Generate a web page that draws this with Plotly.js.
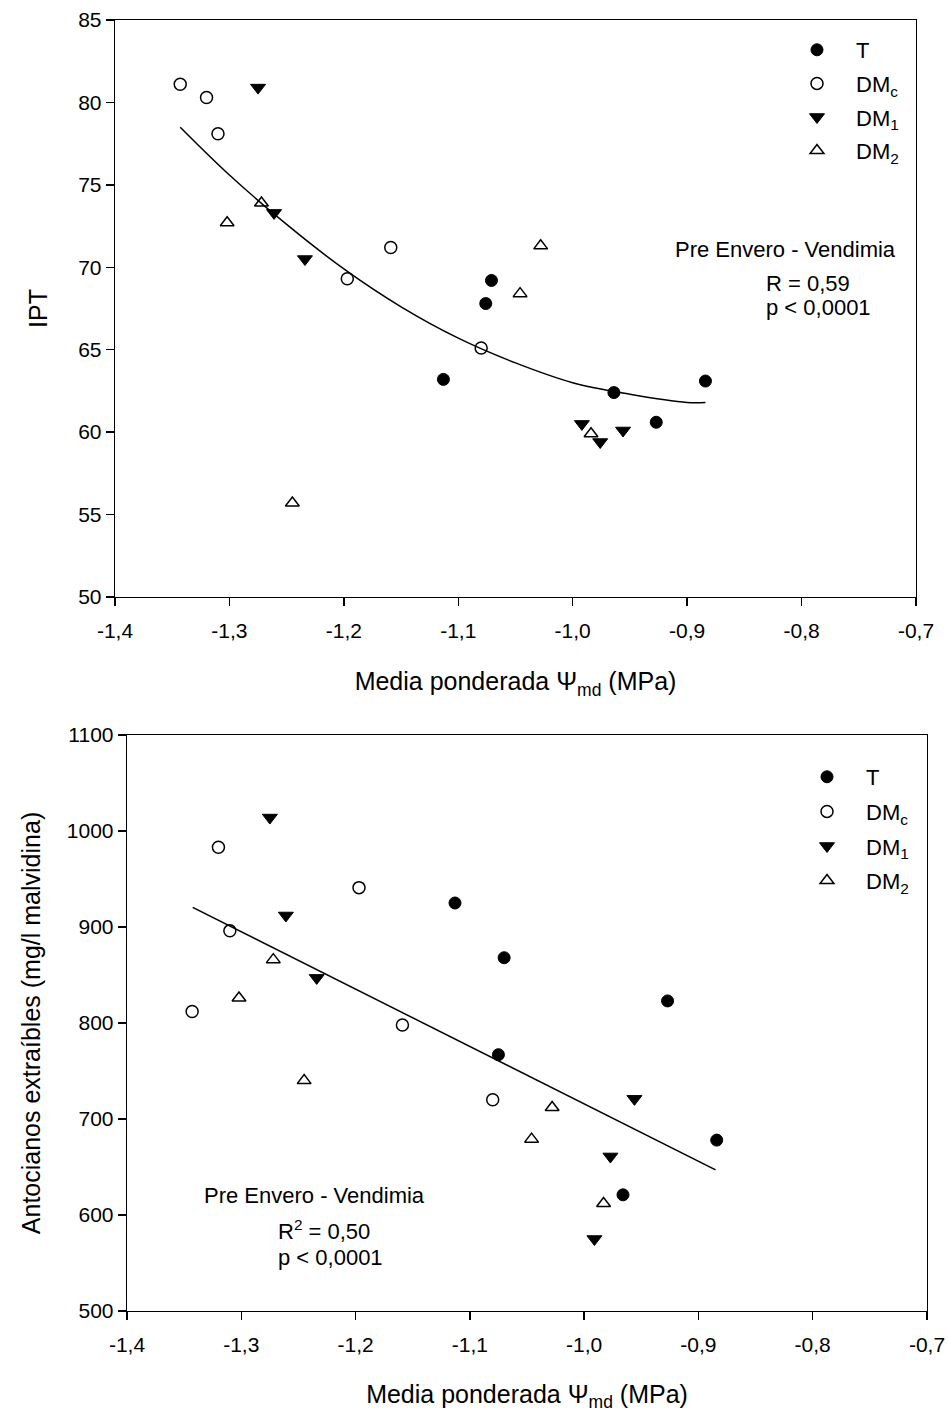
<!DOCTYPE html>
<html>
<head>
<meta charset="utf-8">
<script src="https://cdn.plot.ly/plotly-3.0.1.min.js"></script>
<style>html,body{margin:0;padding:0;background:#fff;}#chart{width:948px;height:1412px;}</style>
</head>
<body>
<div id="chart"></div>
<script>
// ---------- shared x axis ----------
var xTickVals = [-1.4, -1.3, -1.2, -1.1, -1.0, -0.9, -0.8, -0.7];
var xTickText = ["-1,4", "-1,3", "-1,2", "-1,1", "-1,0", "-0,9", "-0,8", "-0,7"];

// ---------- top panel: IPT ----------
var ipt_T_x   = [-1.071, -1.076, -1.113, -0.964, -0.927, -0.884];
var ipt_T_y   = [69.2, 67.8, 63.2, 62.4, 60.6, 63.1];
var ipt_DMc_x = [-1.343, -1.320, -1.310, -1.159, -1.197, -1.080];
var ipt_DMc_y = [81.1, 80.3, 78.1, 71.2, 69.3, 65.1];
var ipt_DM1_x = [-1.275, -1.261, -1.234, -0.992, -0.976, -0.956];
var ipt_DM1_y = [80.9, 73.3, 70.5, 60.5, 59.4, 60.1];
var ipt_DM2_x = [-1.272, -1.302, -1.028, -1.046, -0.984, -1.245];
var ipt_DM2_y = [73.9, 72.7, 71.3, 68.4, 59.9, 55.7];
var ipt_fit_x = [-1.343, -1.30, -1.25, -1.20, -1.15, -1.10, -1.05, -1.00, -0.95, -0.90, -0.884];
var ipt_fit_y = [78.5, 75.6, 72.6, 69.9, 67.6, 65.7, 64.2, 63.0, 62.3, 61.8, 61.8];
var iptTickVals = [50, 55, 60, 65, 70, 75, 80, 85];

// ---------- bottom panel: antocianos ----------
var ant_T_x   = [-1.113, -1.070, -0.927, -1.075, -0.884, -0.966];
var ant_T_y   = [925, 868, 823, 767, 678, 621];
var ant_DMc_x = [-1.320, -1.197, -1.310, -1.343, -1.159, -1.080];
var ant_DMc_y = [983, 941, 896, 812, 798, 720];
var ant_DM1_x = [-1.275, -1.261, -1.234, -0.956, -0.977, -0.991];
var ant_DM1_y = [1014, 912, 847, 721, 661, 575];
var ant_DM2_x = [-1.272, -1.302, -1.245, -1.046, -1.028, -0.983];
var ant_DM2_y = [866, 826, 740, 679, 712, 612];
var ant_fit_x = [-1.3425, -0.885];
var ant_fit_y = [920.5, 647];
var antTickVals = [500, 600, 700, 800, 900, 1000, 1100];

var seriesNames = ["T", "DM<sub>c</sub>", "DM<sub>1</sub>", "DM<sub>2</sub>"];

var FONT = "Liberation Sans, Arial, Helvetica, sans-serif";
var BLACK = "#000000";
var MS = 12;

function markerStyle(i) {
  if (i === 0) return {symbol: "circle", size: MS, color: BLACK, line: {color: BLACK, width: 1}};
  if (i === 1) return {symbol: "circle-open", size: MS, color: BLACK, line: {color: BLACK, width: 1.5}};
  if (i === 2) return {symbol: "triangle-down", size: MS + 1, color: BLACK, line: {color: BLACK, width: 1}};
  return {symbol: "triangle-up-open", size: MS, color: BLACK, line: {color: BLACK, width: 1.5}};
}

function pts(xs, ys, i, xa, ya, leg) {
  return {
    x: xs, y: ys, type: "scatter", mode: "markers",
    name: seriesNames[i], legend: leg, legendgroup: leg + "g" + i,
    xaxis: xa, yaxis: ya, marker: markerStyle(i), hoverinfo: "x+y"
  };
}

var data = [
  {x: ipt_fit_x, y: ipt_fit_y, type: "scatter", mode: "lines", line: {color: BLACK, width: 1.5, shape: "spline"}, showlegend: false, xaxis: "x", yaxis: "y"},
  pts(ipt_T_x, ipt_T_y, 0, "x", "y", "legend"),
  pts(ipt_DMc_x, ipt_DMc_y, 1, "x", "y", "legend"),
  pts(ipt_DM1_x, ipt_DM1_y, 2, "x", "y", "legend"),
  pts(ipt_DM2_x, ipt_DM2_y, 3, "x", "y", "legend"),
  {x: ant_fit_x, y: ant_fit_y, type: "scatter", mode: "lines", line: {color: BLACK, width: 1.5}, showlegend: false, xaxis: "x2", yaxis: "y2"},
  pts(ant_T_x, ant_T_y, 0, "x2", "y2", "legend2"),
  pts(ant_DMc_x, ant_DMc_y, 1, "x2", "y2", "legend2"),
  pts(ant_DM1_x, ant_DM1_y, 2, "x2", "y2", "legend2"),
  pts(ant_DM2_x, ant_DM2_y, 3, "x2", "y2", "legend2")
];

var W = 948, H = 1412;
function px(v) { return v / W; }
function py(v) { return 1 - v / H; }

function xAxis(domain, anchor) {
  return {
    domain: domain, anchor: anchor, range: [-1.4, -0.7],
    tickmode: "array", tickvals: xTickVals, ticktext: xTickText,
    ticks: "outside", ticklen: 8, tickwidth: 1.3, tickcolor: BLACK,
    showline: true, linewidth: 1.3, linecolor: BLACK, mirror: true,
    showgrid: false, zeroline: false,
    tickfont: {family: FONT, size: 21, color: BLACK},
    ticklabelstandoff: 6,
    title: {text: "Media ponderada \u03A8<sub>md</sub> (MPa)", font: {family: FONT, size: 25, color: BLACK}, standoff: 32}
  };
}
function yAxis(domain, anchor, range, vals, title, standoff) {
  return {
    domain: domain, anchor: anchor, range: range,
    tickmode: "array", tickvals: vals,
    ticks: "outside", ticklen: 8, tickwidth: 1.3, tickcolor: BLACK,
    showline: true, linewidth: 1.3, linecolor: BLACK, mirror: true,
    showgrid: false, zeroline: false,
    tickfont: {family: FONT, size: 21, color: BLACK},
    title: {text: title, font: {family: FONT, size: 25, color: BLACK}, standoff: standoff}
  };
}

function legendCfg(xp, yp, gap) {
  return {
    x: px(xp), y: py(yp), xanchor: "left", yanchor: "top",
    bgcolor: "rgba(0,0,0,0)", borderwidth: 0,
    font: {family: FONT, size: 22, color: BLACK},
    itemwidth: 68, traceorder: "grouped", tracegroupgap: gap
  };
}

function ann(text, xp, yp) {
  return {text: text, xref: "paper", yref: "paper", x: px(xp), y: py(yp),
    xanchor: "left", yanchor: "middle", showarrow: false,
    font: {family: FONT, size: 22, color: BLACK}};
}

var layout = {
  width: W, height: H,
  margin: {l: 0, r: 0, t: 0, b: 0},
  paper_bgcolor: "#ffffff", plot_bgcolor: "#ffffff",
  font: {family: FONT, color: BLACK},
  xaxis: xAxis([px(115), px(916)], "y"),
  yaxis: yAxis([py(597), py(20)], "x", [50, 85], iptTickVals, "IPT", 23),
  xaxis2: xAxis([px(127), px(927)], "y2"),
  yaxis2: yAxis([py(1311), py(735)], "x2", [500, 1100], antTickVals, "Antocianos extraíbles (mg/l malvidina)", 19),
  legend: legendCfg(778, 29, 2),
  legend2: legendCfg(788, 756, 3),
  annotations: [
    ann("Pre Envero - Vendimia", 673, 250),
    ann("R = 0,59", 764, 283),
    ann("p &lt; 0,0001", 764, 307),
    ann("Pre Envero - Vendimia", 202, 1195),
    ann("R<sup>2</sup> = 0,50", 276, 1230),
    ann("p &lt; 0,0001", 276, 1257)
  ],
  showlegend: true
};

Plotly.newPlot("chart", data, layout, {displayModeBar: false, staticPlot: true});
</script>
</body>
</html>
